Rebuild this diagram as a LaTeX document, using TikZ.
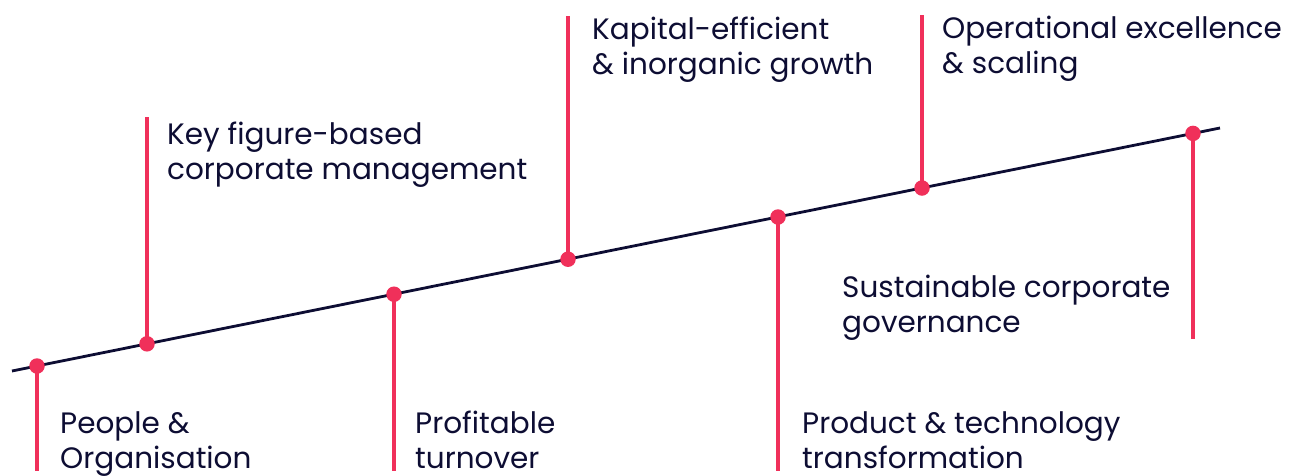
\documentclass[tikz,border=0pt]{standalone}
\usepackage{fontspec}
\setmainfont{Poppins}
\definecolor{navy}{HTML}{0D0D33}
\definecolor{accent}{HTML}{F0305A}
\begin{document}
\begin{tikzpicture}[x=1pt,y=-1pt,
  stem/.style={draw=accent,line width=4pt},
  axis/.style={draw=navy,line width=2.8pt},
  dot/.style={circle,fill=accent,inner sep=0pt,minimum size=15.5pt},
  lbl/.style={anchor=base west,inner sep=0pt,align=left,text=navy,
    font=\fontsize{29.5}{35}\selectfont}]
\useasboundingbox (0,0) rectangle (1304,475);
\coordinate (L0) at (12,371);
\coordinate (L1) at (1220,128);
\coordinate (p1) at (37,366);
\coordinate (p2) at (147,343.8);
\coordinate (p3) at (394,294.2);
\coordinate (p4) at (568,259.2);
\coordinate (p5) at (778,217);
\coordinate (p6) at (922,188);
\coordinate (p7) at (1193,133.4);
\coordinate (e1) at (37,471);
\coordinate (e2) at (147,117);
\coordinate (e3) at (394,471);
\coordinate (e4) at (568,16);
\coordinate (e5) at (778,471);
\coordinate (e6) at (922,15);
\coordinate (e7) at (1193,339);
\foreach \i in {1,...,7} \draw[stem] (p\i) -- (e\i);
\draw[axis] (L0) -- (L1);
\foreach \i in {1,...,7} \node[dot] (d\i) at (p\i) {};
\node[lbl] (t1) at (60,468) {People \&\\Organisation};
\node[lbl] (t2) at (167,179) {Key figure-based\\corporate management};
\node[lbl] (t3) at (415,468) {Profitable\\turnover};
\node[lbl] (t4) at (592,74) {Kapital-efficient\\\& inorganic growth};
\node[lbl] (t5) at (802,468) {Product \& technology\\transformation};
\node[lbl] (t6) at (942,73) {Operational excellence\\\& scaling};
\node[lbl] (t7) at (842,332) {Sustainable corporate\\governance};
\end{tikzpicture}
\end{document}
